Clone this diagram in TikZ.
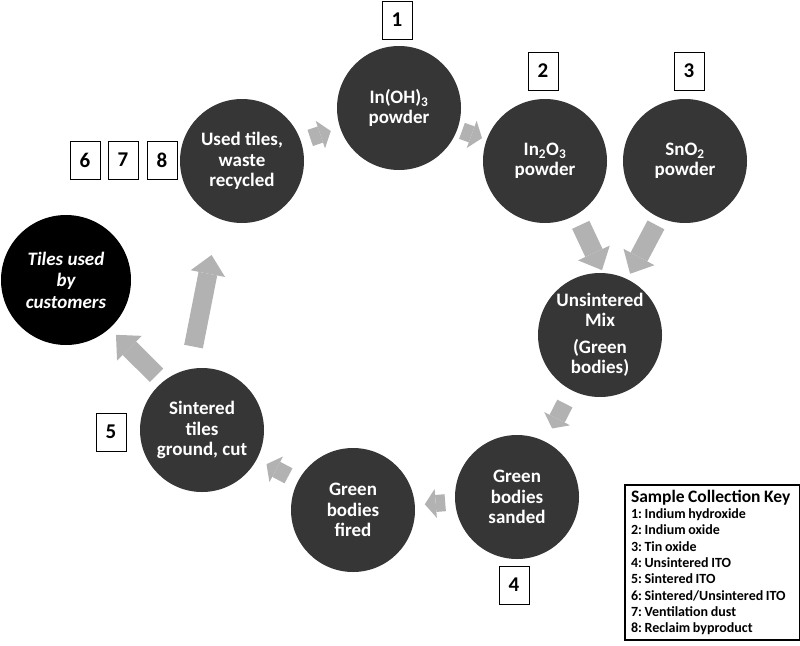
\documentclass[tikz,border=0pt]{standalone}
\usepackage{fontspec}
\setmainfont{Carlito}
\usetikzlibrary{arrows.meta}
\definecolor{disc}{RGB}{54,54,54}
\definecolor{flowgray}{RGB}{178,178,178}
\newcommand\keyfont{\fontsize{14}{16.3}\selectfont\bfseries}
\begin{document}
\begin{tikzpicture}[x=1pt, y=-1pt,
    n/.style={circle, fill=disc, minimum size=124pt, inner sep=0pt, text=white, align=center,
      font=\fontsize{19}{20.5}\selectfont\bfseries},
    b/.style={draw, line width=1pt, minimum width=30pt, minimum height=38pt, inner sep=0pt,
      font=\fontsize{21}{24}\selectfont\bfseries},
    flow/.style={color=flowgray, line width=17pt, -{Triangle[length=11pt, width=29pt, line width=0pt]}},
    bigflow/.style={color=flowgray, line width=19pt, -{Triangle[length=19pt, width=35pt, line width=0pt]}}]
  \useasboundingbox (0,0) rectangle (800,645);
  % process steps
  \node[n] (U) at (242,161) {Used tiles,\\waste\\recycled};
  \node[n] (H) at (399,108) {In(OH)\textsubscript{3}\\powder};
  \node[n] (O) at (545,161) {In\textsubscript{2}O\textsubscript{3}\\powder};
  \node[n] (S) at (685,161) {SnO\textsubscript{2}\\powder};
  \node[n] (M) at (600,335) {Unsintered\\Mix\\[6pt](Green\\bodies)};
  \node[n] (G) at (517,497) {Green\\bodies\\sanded};
  \node[n] (F) at (353,510) {Green\\bodies\\fired};
  \node[n] (T) at (202,430) {Sintered\\tiles\\ground, cut};
  \node[n, fill=black, minimum size=130pt, font=\fontsize{19}{21.5}\selectfont\bfseries\itshape] (C) at (66,280) {Tiles used\\by\\customers};
  % sample numbers
  \node[b] (b1) at (397,20) {1};
  \node[b] (b2) at (543,71) {2};
  \node[b] (b3) at (689,71) {3};
  \node[b] (b4) at (514,585) {4};
  \node[b] (b5) at (111,432) {5};
  \node[b] (b6) at (85,160) {6};
  \node[b] (b7) at (123,160) {7};
  \node[b] (b8) at (162,160) {8};
  % arrows
  \draw[flow, shorten <=72pt, shorten >=72pt] (U.center) -- (H.center);
  \draw[flow, shorten <=67pt, shorten >=67pt] (H.center) -- (O.center);
  \draw[bigflow, shorten <=11pt, shorten >=3pt] (O.-60) -- (M.87);
  \draw[bigflow, shorten <=8pt, shorten >=6pt] (S.-114) -- (M.64);
  \draw[flow, shorten <=77pt, shorten >=77pt] (M.center) -- (G.center);
  \draw[flow, shorten <=72pt, shorten >=72pt] (G.center) -- (F.center);
  \draw[flow, shorten <=73pt, shorten >=73pt] (F.center) -- (T.center);
  \draw[bigflow, shorten <=9pt, shorten >=9pt] (T.129) -- (C.-48);
  \draw[bigflow, shorten <=23pt, shorten >=37pt] (T.102) -- (U.-112);
  % key
  \node[draw, line width=2pt, anchor=north west, inner xsep=6pt, inner ysep=5pt, text width=163pt,
    align=left, font=\keyfont] (key) at (624,484)
    {\frenchspacing\spaceskip=2.6pt\relax
     {\fontsize{17.5}{20}\selectfont\spaceskip=3.5pt\relax Sample Collection Key}\\
     1: Indium hydroxide\\
     2: Indium oxide\\
     3: Tin oxide\\
     4: Unsintered ITO\\
     5: Sintered ITO\\
     6: Sintered/Unsintered ITO\\
     7: Ventilation dust\\
     8: Reclaim byproduct};
\end{tikzpicture}
\end{document}
